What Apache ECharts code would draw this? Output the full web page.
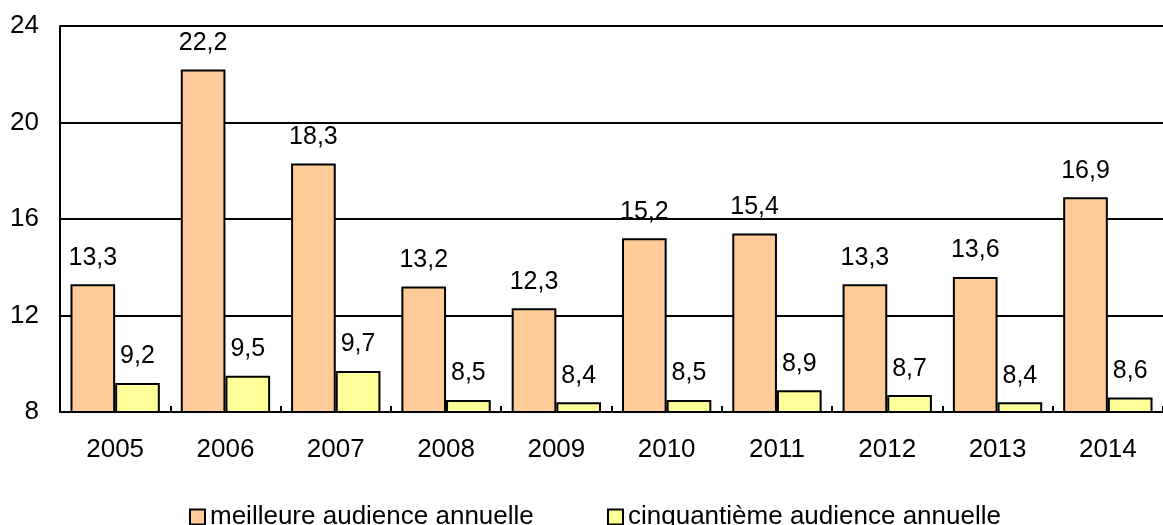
<!DOCTYPE html>
<html>
<head>
<meta charset="utf-8">
<script src="https://cdn.jsdelivr.net/npm/echarts@6/dist/echarts.min.js"></script>
<style>
html,body{margin:0;padding:0;background:#fff;}
#c{width:1163px;height:525px;}
</style>
</head>
<body>
<div id="c"></div>
<script>
const years = ['2005','2006','2007','2008','2009','2010','2011','2012','2013','2014'];
const meilleure = [13.3, 22.2, 18.3, 13.2, 12.3, 15.2, 15.4, 13.3, 13.6, 16.9];
const cinquantieme = [9.2, 9.5, 9.7, 8.5, 8.4, 8.5, 8.9, 8.7, 8.4, 8.6];
const seriesNames = ['meilleure audience annuelle', 'cinquantième audience annuelle'];
const yTicks = {min: 8, max: 24, interval: 4};

const FONT = '"Liberation Sans", Arial, sans-serif';
const fmt = p => String(p.value).replace('.', ',');

const legendBase = {
  top: 499,
  itemWidth: 15,
  itemHeight: 15,
  itemGap: 0,
  icon: 'rect',
  textStyle: {fontFamily: FONT, fontSize: 26, color: '#000'}
};

const chart = echarts.init(document.getElementById('c'), null, {renderer: 'canvas'});
chart.setOption({
  animation: false,
  backgroundColor: '#ffffff',
  textStyle: {fontFamily: FONT},
  grid: {left: 60, right: -8, top: 26, bottom: 113, containLabel: false},
  legend: [
    Object.assign({}, legendBase, {left: 184, data: [seriesNames[0]]}),
    Object.assign({}, legendBase, {left: 602, data: [seriesNames[1]]})
  ],
  xAxis: {
    type: 'category',
    data: years,
    axisLine: {lineStyle: {color: '#000', width: 2}},
    axisTick: {show: true, inside: true, length: 6, lineStyle: {color: '#000', width: 2}},
    axisLabel: {color: '#000', fontSize: 26, margin: 25, fontFamily: FONT},
    splitLine: {show: false}
  },
  yAxis: {
    type: 'value',
    min: yTicks.min,
    max: yTicks.max,
    interval: yTicks.interval,
    axisLine: {show: true, lineStyle: {color: '#000', width: 2}},
    axisTick: {show: false},
    axisLabel: {color: '#000', fontSize: 26, margin: 21, fontFamily: FONT},
    splitLine: {show: true, lineStyle: {color: '#000', width: 2}}
  },
  series: [
    {
      name: seriesNames[0],
      type: 'bar',
      data: meilleure,
      barGap: '0%',
      barCategoryGap: '19%',
      itemStyle: {color: '#FFCC99', borderColor: '#000', borderWidth: 2},
      label: {show: true, position: 'top', distance: 14, color: '#000', fontSize: 25, fontFamily: FONT, formatter: fmt}
    },
    {
      name: seriesNames[1],
      type: 'bar',
      data: cinquantieme,
      barGap: '0%',
      barCategoryGap: '19%',
      itemStyle: {color: '#FFFF99', borderColor: '#000', borderWidth: 2},
      label: {show: true, position: 'top', distance: 14, color: '#000', fontSize: 25, fontFamily: FONT, formatter: fmt}
    }
  ]
});
</script>
</body>
</html>
